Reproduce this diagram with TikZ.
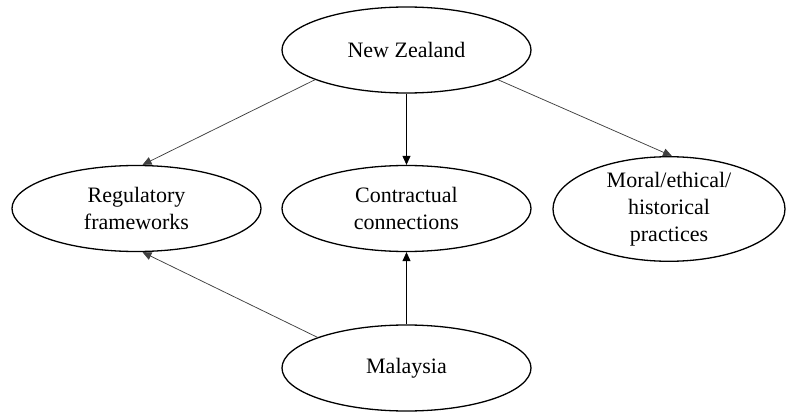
\documentclass[tikz,border=0pt]{standalone}
\usepackage{fontspec}
\setmainfont{Liberation Serif}
\usetikzlibrary{shapes.geometric,arrows.meta}
\begin{document}
\begin{tikzpicture}[x=1pt,y=-1pt,
  oval/.style={ellipse,draw,line width=1.3pt,inner sep=0pt,
    minimum width=249pt,minimum height=86pt,align=center,
    font=\fontsize{22}{26.5}\selectfont},
  link/.style={line width=0.75pt,-{Triangle[length=9pt,width=8pt]}}]
\useasboundingbox (0,0) rectangle (793,412);
\node[oval] (nz)  at (406.5,50)  {New Zealand};
\node[oval] (reg) at (136.5,208.5) {Regulatory\\frameworks};
\node[oval] (con) at (406.5,208.5) {Contractual\\connections};
\node[oval,minimum width=232pt,font=\fontsize{22}{27}\selectfont] (mor) at (669,209) {Moral/ethical/\\historical\\practices};
\node[oval] (my)  at (406.5,368) {Malaysia};
% links from New Zealand
\draw[link,black!75] (nz.198.5) -- ([xshift=6pt]reg.north);
\draw[link] (nz.south) -- (con.north);
\draw[link,black!75] (nz.-18.3) -- ([xshift=3pt]mor.north);
% links from Malaysia
\draw[link,black!75] (my.161) -- ([xshift=6pt]reg.south);
\draw[link] (my.north) -- (con.south);
\end{tikzpicture}
\end{document}
